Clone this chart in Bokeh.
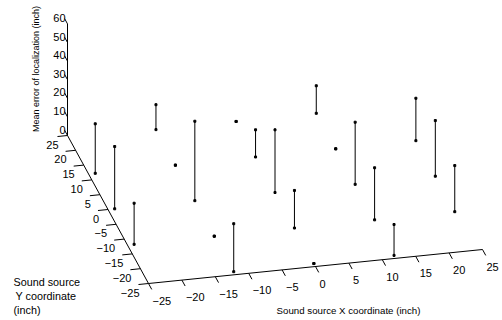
import math
from bokeh.plotting import figure
from bokeh.models import Range1d
from bokeh.core.properties import value
from bokeh.embed import file_html
from bokeh.resources import INLINE

# ---- data (sound source grid positions and mean localization error) ----
src_x = [-24, -24, -24, -12, -12, -12, -12, -12, 0, 0, 0, 0, 0, 12, 12, 12, 12, 12, 24, 24, 24]
src_y = [12, 0, -12, 24, 12, 0, -12, -24, 24, 12, 0, -12, -24, 24, 12, 0, -12, -24, 12, 0, -12]
err = [26.6, 33.5, 22.1, 13.4, 0.0, 42.7, 0.0, 25.8, 0.0, 14.6, 33.7, 20.2, 0.0,
       14.8, 0.0, 33.4, 28.0, 16.6, 22.8, 29.9, 24.8]

x_ticks = [-25, -20, -15, -10, -5, 0, 5, 10, 15, 20, 25]
y_ticks = [-25, -20, -15, -10, -5, 0, 5, 10, 15, 20, 25]
z_ticks = [0, 10, 20, 30, 40, 50, 60]
x_lim = (-25, 25)
y_lim = (-25, 25)
z_lim = (0, 60)

# ---- oblique 3-D projection onto the page ----
O = (148.0, 283.0)
EX = (6.68, -0.68)
EY = (-1.62, -2.96)
EZ = 1.86


def proj(x, y, z):
    dx = x - x_lim[0]
    dy = y - y_lim[0]
    return (O[0] + dx * EX[0] + dy * EY[0], O[1] + dx * EX[1] + dy * EY[1] - z * EZ)


W, H = 502, 320
p = figure(width=W, height=H, x_range=Range1d(0, W), y_range=Range1d(H, 0),
           output_backend="svg", toolbar_location=None, min_border=0)
p.axis.visible = False
p.grid.visible = False
p.outline_line_color = None

FONT = value("Liberation Sans")
minus = lambda v: ("\u2212" + str(-v)) if v < 0 else str(v)

# axes lines
for a, b in [((x_lim[0], y_lim[0], 0), (x_lim[1], y_lim[0], 0)),
             ((x_lim[0], y_lim[0], 0), (x_lim[0], y_lim[1], 0)),
             ((x_lim[0], y_lim[1], z_lim[0]), (x_lim[0], y_lim[1], z_lim[1]))]:
    pa, pb = proj(*a), proj(*b)
    p.line([pa[0], pb[0]], [pa[1], pb[1]], line_color="black", line_width=1)

# ticks
tx0, ty0, tx1, ty1 = [], [], [], []
for v in x_ticks:
    a = proj(v, y_lim[0], 0)
    b = proj(v, y_lim[0] - 2.0, 0)
    tx0.append(a[0]); ty0.append(a[1]); tx1.append(b[0]); ty1.append(b[1])
for v in y_ticks:
    a = proj(x_lim[0], v, 0)
    b = proj(x_lim[0] - 1.5, v, 0)
    tx0.append(a[0]); ty0.append(a[1]); tx1.append(b[0]); ty1.append(b[1])
for v in z_ticks:
    a = proj(x_lim[0], y_lim[1], v)
    b = proj(x_lim[0], y_lim[1] + 1.8, v)
    tx0.append(a[0]); ty0.append(a[1]); tx1.append(b[0]); ty1.append(b[1])
p.segment(tx0, ty0, tx1, ty1, line_color="black", line_width=1)

# tick labels
xl = [proj(v, y_lim[0], 0) for v in x_ticks]
p.text([q[0] + 4 for q in xl], [q[1] + 17 for q in xl], text=[minus(v) for v in x_ticks],
       text_font=FONT, text_font_size=value("11px"), text_align="left",
       text_baseline="middle", text_color="black")
yl = [proj(x_lim[0], v, 0) for v in y_ticks]
p.text([q[0] - 9 for q in yl], [q[1] + 9 for q in yl], text=[minus(v) for v in y_ticks],
       text_font=FONT, text_font_size=value("11px"), text_align="right",
       text_baseline="middle", text_color="black")
zl = [proj(x_lim[0], y_lim[1], v) for v in z_ticks]
p.text([q[0] - 2 for q in zl], [q[1] - 6 for q in zl], text=[minus(v) for v in z_ticks],
       text_font=FONT, text_font_size=value("11px"), text_align="right",
       text_baseline="middle", text_color="black")

# stems
b = [proj(x, y, 0) for x, y in zip(src_x, src_y)]
t = [proj(x, y, z) for x, y, z in zip(src_x, src_y, err)]
p.segment([q[0] for q in b], [q[1] for q in b], [q[0] for q in t], [q[1] for q in t],
          line_color="black", line_width=1)
p.scatter([q[0] for q in b] + [q[0] for q in t], [q[1] for q in b] + [q[1] for q in t],
          marker="square", size=2, color="black")

# axis titles
p.text([348], [310], text=["Sound source X coordinate (inch)"], text_font=FONT,
       text_font_size=value("9.7px"), text_align="center", text_baseline="middle",
       text_color="black")
p.text([13, 15, 13], [281.5, 295, 309], text=["Sound source", "Y coordinate", "(inch)"],
       text_font=FONT, text_font_size=value("10.8px"), text_align="left",
       text_baseline="middle", text_color="black")
p.text([35.5], [68.5], text=["Mean error of localization (inch)"], angle=math.pi / 2,
       text_font=FONT, text_font_size=value("9px"), text_align="center",
       text_baseline="middle", text_color="black")

open("out.html", "w").write(file_html(p, INLINE))
